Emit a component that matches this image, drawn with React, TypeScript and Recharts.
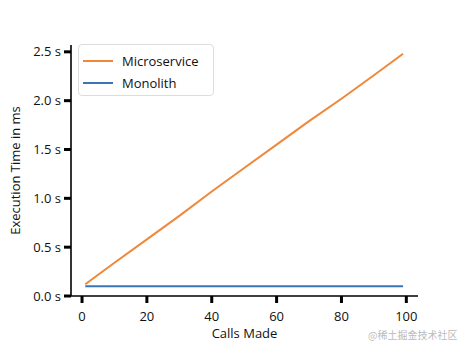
import { LineChart, Line, XAxis, YAxis } from 'recharts';

const calls = [1, 10, 20, 30, 40, 50, 60, 70, 80, 90, 99];
const microservice = [0.12, 0.34, 0.58, 0.82, 1.07, 1.31, 1.55, 1.79, 2.02, 2.26, 2.48];
const monolith = [0.1, 0.1, 0.1, 0.1, 0.1, 0.1, 0.1, 0.1, 0.1, 0.1, 0.1];
const xTicks = [0, 20, 40, 60, 80, 100];
const yTicks = [0, 0.5, 1, 1.5, 2, 2.5];

const data = calls.map((c, i) => ({
  calls: c,
  Microservice: microservice[i],
  Monolith: monolith[i],
}));

const FONT = '"Open Sans", "DejaVu Sans", sans-serif';
const tickStyle = { fontSize: 13, fill: '#111', fontFamily: FONT };

function LegendBox() {
  const items = [
    { name: 'Microservice', color: '#f0883a' },
    { name: 'Monolith', color: '#3a75b8' },
  ];
  return (
    <div
      style={{
        position: 'absolute',
        left: 78,
        top: 44,
        width: 136,
        height: 52,
        border: '1px solid #ddd',
        borderRadius: 4,
        background: '#fff',
        fontFamily: FONT,
        fontSize: 13,
        color: '#111',
        boxSizing: 'border-box',
      }}
    >
      {items.map((it, i) => (
        <div
          key={it.name}
          style={{ position: 'absolute', left: 4, top: 7 + i * 22, display: 'flex', alignItems: 'center' }}
        >
          <div style={{ width: 30, height: 2, background: it.color, marginRight: 9 }} />
          <span>{it.name}</span>
        </div>
      ))}
    </div>
  );
}

export default function App() {
  return (
    <div style={{ position: 'fixed', left: 0, top: 0, width: 468, height: 351, background: '#fff' }}>
      <LineChart
        width={468}
        height={351}
        data={data}
        margin={{ top: 45, right: 50, bottom: 25, left: 11 }}
      >
        <XAxis
          dataKey="calls"
          type="number"
          domain={[-3.4, 103.6]}
          ticks={xTicks}
          tick={tickStyle}
          axisLine={{ stroke: '#000', strokeWidth: 1.6 }}
          tickLine={{ stroke: '#000', strokeWidth: 3 }}
          tickSize={7}
          tickMargin={9}
          height={30}
          label={{ value: 'Calls Made', position: 'insideBottom', offset: -12, style: { fontSize: 13, fill: '#111', fontFamily: FONT } }}
        />
        <YAxis
          type="number"
          domain={[0, 2.57]}
          ticks={yTicks}
          tickFormatter={(v: number) => `${v.toFixed(1)} s`}
          tick={tickStyle}
          axisLine={{ stroke: '#000', strokeWidth: 1.6 }}
          tickLine={{ stroke: '#000', strokeWidth: 3 }}
          tickSize={7}
          tickMargin={3}
          width={60}
          label={{
            value: 'Execution Time in ms',
            angle: -90,
            position: 'insideLeft',
            offset: 4,
            style: { textAnchor: 'middle', fontSize: 13, fill: '#111', fontFamily: FONT },
          }}
        />
        <Line
          dataKey="Microservice"
          stroke="#f0883a"
          strokeWidth={2}
          dot={false}
          type="linear"
          isAnimationActive={false}
        />
        <Line
          dataKey="Monolith"
          stroke="#3a75b8"
          strokeWidth={2}
          dot={false}
          type="linear"
          isAnimationActive={false}
        />
      </LineChart>
      <LegendBox />
      <div
        style={{
          position: 'absolute',
          left: 368,
          top: 327,
          fontSize: 10,
          color: '#bbb',
          fontFamily: '"Noto Sans CJK SC", sans-serif',
        }}
      >
        @稀土掘金技术社区
      </div>
    </div>
  );
}
